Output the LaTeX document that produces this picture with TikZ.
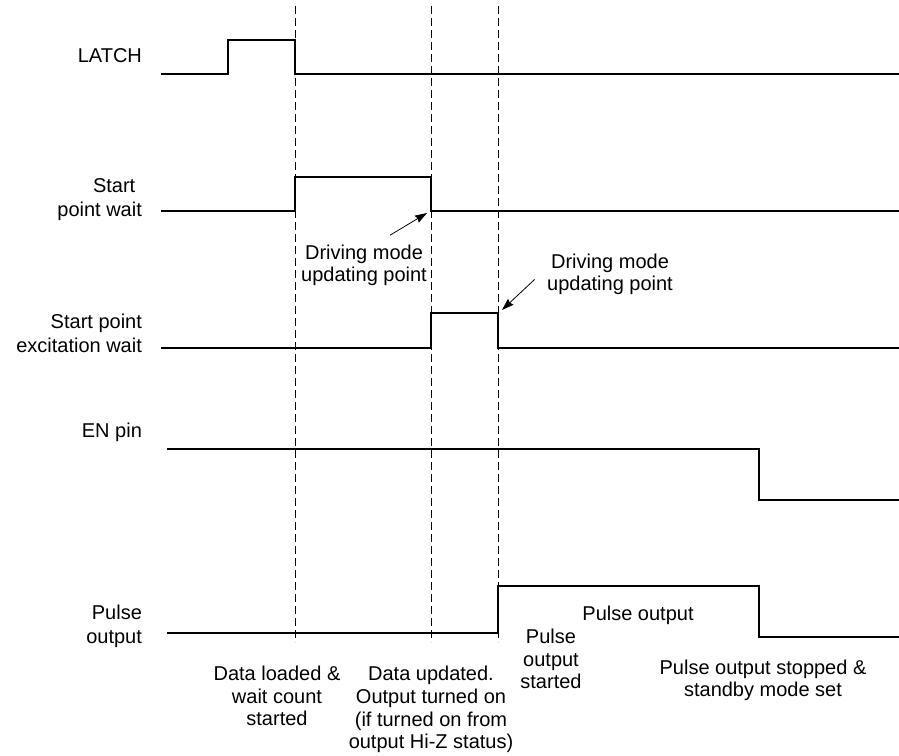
\documentclass[tikz,border=0pt]{standalone}
\usepackage{fontspec}
\setmainfont{Liberation Sans}
\usetikzlibrary{arrows.meta}

\begin{document}
\begin{tikzpicture}[x=7.5pt, y=7.5pt,
  wave/.style={line width=1.7pt},
  guide/.style={line width=0.6pt, dash pattern=on 6pt off 3pt},
  sig/.style={anchor=base east, align=right, inner sep=1pt,
              font=\fontsize{15}{18}\selectfont},
  note/.style={anchor=base, align=center, inner sep=1pt,
               font=\fontsize{15}{17}\selectfont},
  arr/.style={-{Stealth[length=9pt, width=6pt, inset=1pt]}, line width=0.6pt}
]
\useasboundingbox (0,0) rectangle (89.9,75.6);

% Timing marks
\foreach \t in {29.5, 43.1, 49.8}
  \draw[guide] (\t,75.0) -- (\t,11.4);

% Signal names
\node[sig] (latch) at (14.35,69.3) {LATCH};
\node[sig] (spw)   at (14.35,53.9) {Start\kern0.33em\\point wait};
\node[sig] (spew)  at (14.35,40.3) {Start point\\excitation wait};
\node[sig] (en)    at (14.35,31.8) {EN pin};
\node[sig] (pout)  at (14.35,11.2) {Pulse\\output};

% Waveforms
\draw[wave] (16.1,68.2) -- (22.8,68.2) -- (22.8,71.6) -- (29.5,71.6)
            -- (29.5,68.2) -- (89.9,68.2);
\draw[wave] (16.1,54.5) -- (29.5,54.5) -- (29.5,57.9) -- (43.1,57.9)
            -- (43.1,54.5) -- (89.9,54.5);
\draw[wave] (16.1,40.8) -- (43.1,40.8) -- (43.1,44.3) -- (49.8,44.3)
            -- (49.8,40.8) -- (89.9,40.8);
\draw[wave] (16.7,30.7) -- (75.9,30.7) -- (75.9,25.6) -- (89.9,25.6);
\draw[wave] (16.7,12.3) -- (49.8,12.3) -- (49.8,17.0) -- (75.9,17.0)
            -- (75.9,11.9) -- (89.9,11.9);

% Updating points
\coordinate (upd1) at (42.7,54.3);
\coordinate (upd2) at (50.2,44.6);
\node[note] (dm1) at (36.4,47.4) {Driving mode\\updating point};
\node[note] (dm2) at (61.0,46.5) {Driving mode\\updating point};
\draw[arr] ([shift={(2.6,0.8)}]dm1.north) -- (upd1);
\draw[arr] ([shift={(-1.1,-0.5)}]dm2.west) -- (upd2);

% Events
\node[note] (load)  at (27.7,3.0)  {Data loaded \&\\wait count\\started};
\node[note] (upd)   at (43.1,0.7)  {Data updated.\\Output turned on\\(if turned on from\\output Hi-Z status)};
\node[note] (start) at (55.1,6.7)  {Pulse\\output\\started};
\node[note] (pulse) at (63.8,13.5) {Pulse output};
\node[note] (stop)  at (76.3,5.9)  {Pulse output stopped \&\\standby mode set};

\end{tikzpicture}
\end{document}
